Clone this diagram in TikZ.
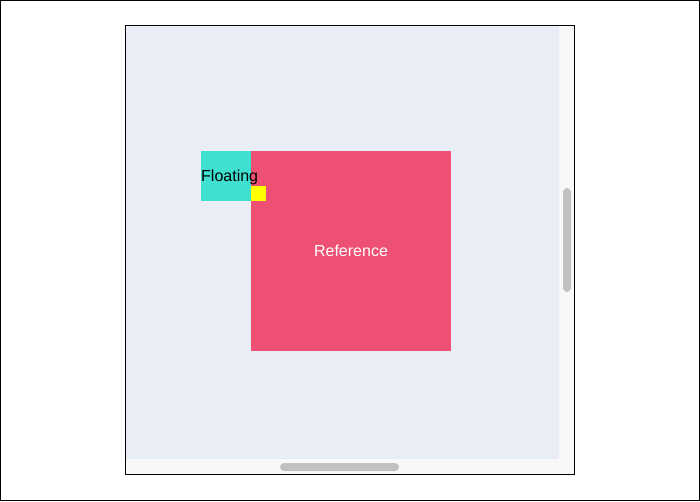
\documentclass[tikz,border=0pt]{standalone}
\usepackage{fontspec}
\setmainfont{Liberation Sans}
\usepackage{xcolor}
\usetikzlibrary{positioning}

\definecolor{pageblue}{HTML}{E9EDF5}
\definecolor{trackgray}{HTML}{F8F8F8}
\definecolor{thumbgray}{HTML}{C1C1C1}
\definecolor{floatcyan}{HTML}{40E0D0}
\definecolor{refred}{HTML}{EE5073}
\definecolor{markyellow}{HTML}{FFFF00}

\begin{document}
\begin{tikzpicture}[x=1pt,y=-1pt,
  box/.style={draw=none,inner sep=0pt,outer sep=0pt,anchor=north west},
  thumb/.style={fill=thumbgray,rounded corners=4pt},
  font=\fontsize{16}{19}\selectfont]

\useasboundingbox (0,0) rectangle (700,501);
\draw[line width=1pt] (0.5,0.5) rectangle (699.5,500.5);

% viewport with scrollbars
\fill[trackgray] (125,25) rectangle (574,474);
\fill[pageblue] (126,26) rectangle (559,459);
\fill[thumb] (563,188) rectangle (571,292);
\fill[thumb] (280,463) rectangle (399,471);
\draw[line width=1pt] (125.5,25.5) rectangle (574.5,474.5);

\node[box, fill=refred, minimum width=200pt, minimum height=200pt]
  (reference) at (251,151) {};
\node[text=white] (reflabel) at (reference.center) {Reference};

\node[box, fill=floatcyan, minimum width=50pt, minimum height=50pt,
  anchor=north east] (floating) at (reference.north west) {};
\node[anchor=west, inner sep=0pt, yshift=-1pt] (floatlabel) at (floating.west) {Floating};

\node[box, fill=markyellow, minimum width=15pt, minimum height=15pt,
  anchor=south west] (marker) at (floating.south east) {};

\end{tikzpicture}
\end{document}
